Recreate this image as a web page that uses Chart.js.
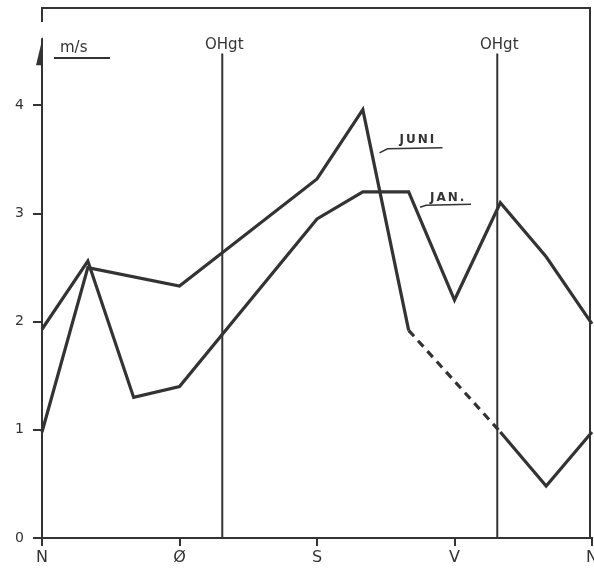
<!DOCTYPE html>
<html>
<head>
<meta charset="utf-8">
<script src="https://cdn.jsdelivr.net/npm/chart.js@4/dist/chart.umd.min.js"></script>
<style>
  html, body { margin: 0; padding: 0; background: #fff; }
  #wrap { width: 594px; height: 579px; }
</style>
</head>
<body>
<div id="wrap"><canvas id="vind"></canvas></div>
<script>
// directions in degrees, 0 = N
const janDir = [0, 30, 60, 90, 180, 210, 240, 270, 300, 330, 360];
const janSpeed = [1.93, 2.56, 1.3, 1.4, 2.95, 3.2, 3.2, 2.2, 3.1, 2.6, 1.98];
const juniDir = [0, 30, 90, 180, 210, 240, 300, 330, 360];
const juniSpeed = [0.98, 2.5, 2.33, 3.32, 3.96, 1.92, 0.98, 0.48, 0.98];
const xTicks = [0, 90, 180, 270, 360];
const xLabels = ['N', 'Ø', 'S', 'V', 'N'];
const yTicks = [0, 1, 2, 3, 4];
const ohgtDir = [118, 298];

const ink = '#333';

function pts(dirs, vals) {
	return dirs.map((d, i) => ({ x: d, y: vals[i] }));
}

function noPad(s) {
	s.paddingTop = 0;
	s.paddingBottom = 0;
	s.paddingLeft = 0;
	s.paddingRight = 0;
}

const decor = {
	id: 'decor',
	afterDraw(chart) {
		const c = chart.ctx;
		const xs = chart.scales.x, ys = chart.scales.y;
		const a = chart.chartArea;
		c.save();
		c.strokeStyle = ink;
		c.fillStyle = ink;
		c.lineWidth = 2;

		// frame: top, right, top-left stub
		c.beginPath();
		c.moveTo(a.left, a.top + 14);
		c.lineTo(a.left, a.top);
		c.lineTo(a.right - 2, a.top);
		c.lineTo(a.right - 2, a.bottom);
		c.stroke();

		// y axis with half arrow
		const yTop = ys.getPixelForValue(4.62);
		c.beginPath();
		c.moveTo(a.left, a.bottom);
		c.lineTo(a.left, yTop);
		c.stroke();
		c.beginPath();
		c.moveTo(a.left + 1, yTop - 2);
		c.lineTo(a.left + 1, yTop + 27);
		c.lineTo(a.left - 6, yTop + 27);
		c.closePath();
		c.fill();

		// unit
		c.font = '15px "DejaVu Sans"';
		c.textBaseline = 'alphabetic';
		c.textAlign = 'left';
		c.fillText('m/s', 60, 52);
		c.beginPath();
		c.moveTo(54, 58);
		c.lineTo(110, 58);
		c.stroke();

		// OHgt lines
		ohgtDir.forEach(d => {
			const px = xs.getPixelForValue(d);
			c.beginPath();
			c.moveTo(px, ys.getPixelForValue(4.48));
			c.lineTo(px, a.bottom);
			c.stroke();
			c.textAlign = 'center';
			c.font = '15px "DejaVu Sans"';
			c.fillText('OHgt', px + 2, 49);
		});

		// series labels with leader lines
		c.font = 'bold 12px "DejaVu Sans"';
		c.letterSpacing = '2px';
		c.textAlign = 'left';
		c.lineWidth = 1.5;
		let lx = xs.getPixelForValue(234), ly = ys.getPixelForValue(3.7) + 5;
		c.fillText('JUNI', lx, ly);
		c.beginPath();
		c.moveTo(lx - 20, ly + 10);
		c.lineTo(lx - 12, ly + 6);
		c.lineTo(lx + 43, ly + 5);
		c.stroke();
		lx = xs.getPixelForValue(254); ly = ys.getPixelForValue(3.15) + 4;
		c.fillText('JAN.', lx, ly);
		c.beginPath();
		c.moveTo(lx - 10, ly + 6);
		c.lineTo(lx - 4, ly + 4);
		c.lineTo(lx + 41, ly + 3);
		c.stroke();
		c.restore();
	}
};

new Chart(document.getElementById('vind'), {
	type: 'line',
	data: {
		datasets: [{
			label: 'JAN.',
			data: pts(janDir, janSpeed),
			borderColor: ink,
			borderWidth: 3.2,
			pointRadius: 0,
			tension: 0,
			clip: false
		}, {
			label: 'JUNI',
			data: pts(juniDir, juniSpeed),
			borderColor: ink,
			borderWidth: 3.2,
			pointRadius: 0,
			tension: 0,
			clip: false,
			segment: {
				borderDash: ctx => ctx.p0.parsed.x === 240 ? [8, 6] : undefined
			}
		}]
	},
	options: {
		responsive: true,
		maintainAspectRatio: false,
		animation: false,
		layout: { padding: { top: 8, right: 2, left: 0, bottom: 0 } },
		plugins: { legend: { display: false }, tooltip: { enabled: false } },
		scales: {
			x: {
				type: 'linear',
				min: 0,
				max: 360,
				afterBuildTicks: s => { s.ticks = xTicks.map(v => ({ value: v })); },
				afterFit: s => { s.height = 41; noPad(s); },
				border: { display: true, color: ink, width: 2 },
				grid: { drawOnChartArea: false, drawTicks: true, tickLength: 8, color: ink, lineWidth: 2 },
				ticks: {
					padding: 2,
					color: ink,
					font: { family: 'DejaVu Sans', size: 16 },
					callback: (v, i) => xLabels[i]
				}
			},
			y: {
				min: 0,
				max: 4.9,
				afterBuildTicks: s => { s.ticks = yTicks.map(v => ({ value: v })); },
				afterFit: s => { s.width = 42; noPad(s); },
				border: { display: false },
				grid: { drawOnChartArea: false, drawTicks: true, tickLength: 9, color: ink, lineWidth: 2 },
				ticks: {
					padding: 9,
					color: ink,
					font: { family: 'DejaVu Sans', size: 14 }
				}
			}
		}
	},
	plugins: [decor]
});
</script>
</body>
</html>
